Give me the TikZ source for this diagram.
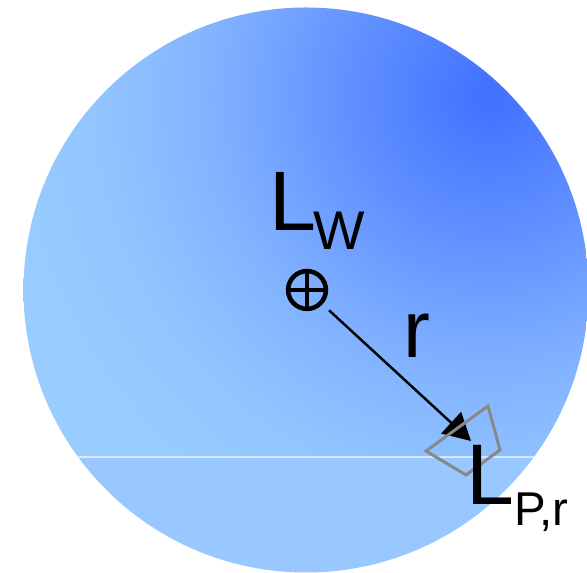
\documentclass[tikz,border=0pt]{standalone}
\usepackage{fontspec}
\setmainfont{Liberation Sans}
\usetikzlibrary{arrows.meta}

\definecolor{skylight}{HTML}{99CCFF}
\definecolor{skyflat}{HTML}{98C8FF}
\definecolor{glowpale}{HTML}{92C4FF}
\definecolor{glowsoft}{HTML}{80B1FF}
\definecolor{glowmid}{HTML}{6A9AFF}
\definecolor{glowdark}{HTML}{4070FF}
\definecolor{posegray}{HTML}{888888}

\pgfdeclareradialshading{domeglow}{\pgfpoint{0bp}{0bp}}{color(0bp)=(glowdark); color(7bp)=(glowmid); color(10.5bp)=(glowsoft); color(15bp)=(glowpale); color(19bp)=(skylight); color(50bp)=(skylight)}

\tikzset{
  lbl/.style={inner sep=0pt, anchor=base west, text=black},
  originmark/.style={circle, draw=black, line width=2.6pt, minimum size=21.5pt, inner sep=0pt,
    path picture={
      \draw[line width=2.5pt] (path picture bounding box.north) -- (path picture bounding box.south);
      \draw[line width=2.5pt] (path picture bounding box.west) -- (path picture bounding box.east);
    }},
  posebox/.style={draw=posegray, line width=1.7pt, line join=miter},
}

\begin{document}
\begin{tikzpicture}[x=0.02cm, y=0.02cm]
  \useasboundingbox (0,0) rectangle (587,573);
  \clip (0,0) rectangle (587,573);

  % sphere: shaded upper part, flat lower part
  \begin{scope}
    \clip (306,283) circle (282.5);
    \fill[skyflat] (0,0) rectangle (600,116);
    \clip (0,116) rectangle (600,600);
    \shade[shading=domeglow] (490,478) circle (650);
  \end{scope}
  \draw[white, opacity=0.6, line width=0.6pt] (78,116) -- (534,116);

  % world origin and arrow to pose
  \node[originmark] (world) at (307,283) {};
  \coordinate (pose) at (471,132);
  \draw[line width=1.4pt, shorten <=5pt, -{Triangle[length=15.4pt, width=16.5pt]}] (world) -- (pose);

  % pose outline
  \draw[posebox] (426,122) -- (488,167) -- (500,123) -- (466,98) -- cycle;

  % labels
  \node[lbl] (lw) at (269,342) {\fontsize{48pt}{48pt}\selectfont L\kern-1.5pt\raisebox{-10.8pt}{\fontsize{31pt}{31pt}\selectfont W}};
  \node[lbl] (rlabel) at (403,215) {\fontsize{46pt}{46pt}\selectfont r};
  \node[lbl] (lpr) at (466,68) {\fontsize{49pt}{49pt}\selectfont L\raisebox{-11.4pt}{\fontsize{27pt}{27pt}\selectfont P,r}};
\end{tikzpicture}
\end{document}
